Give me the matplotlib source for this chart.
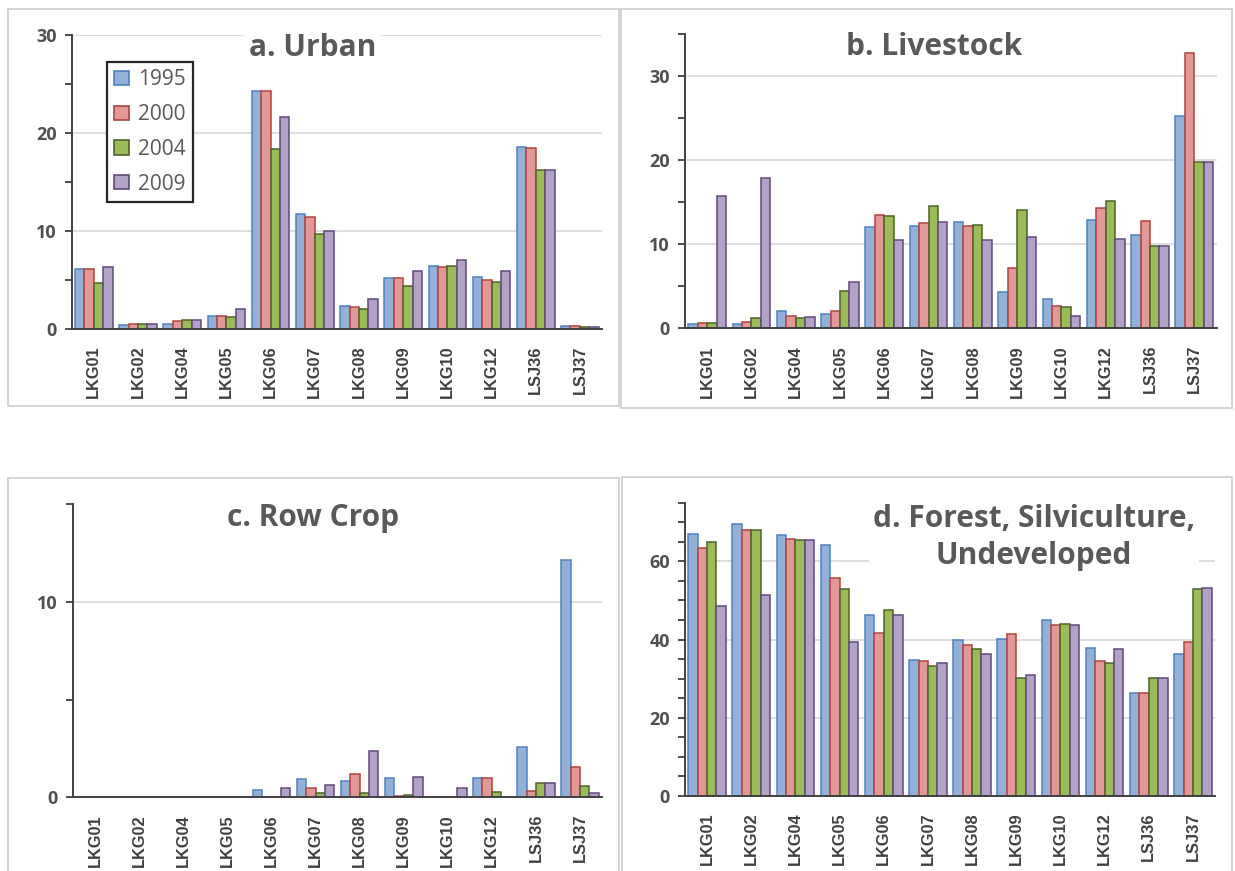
import matplotlib
matplotlib.use("Agg")
import matplotlib.pyplot as plt
from matplotlib.patches import Rectangle, Patch
from matplotlib.ticker import MultipleLocator

# Sub-watershed sites
sites = ["LKG01", "LKG02", "LKG04", "LKG05", "LKG06", "LKG07",
         "LKG08", "LKG09", "LKG10", "LKG12", "LSJ36", "LSJ37"]
years = ["1995", "2000", "2004", "2009"]

# a. Urban (% of area)
urban_1995 = [6.1, 0.37, 0.48, 1.3, 24.3, 11.7, 2.3, 5.2, 6.4, 5.3, 18.6, 0.27]
urban_2000 = [6.1, 0.48, 0.75, 1.3, 24.3, 11.4, 2.2, 5.2, 6.3, 5.0, 18.5, 0.24]
urban_2004 = [4.7, 0.48, 0.89, 1.2, 18.4, 9.7, 2.0, 4.4, 6.4, 4.8, 16.2, 0.14]
urban_2009 = [6.3, 0.48, 0.89, 2.0, 21.6, 10.0, 3.0, 5.9, 7.05, 5.9, 16.2, 0.14]

# b. Livestock
livestock_1995 = [0.55, 0.55, 2.1, 1.7, 12.0, 12.1, 12.6, 4.3, 3.5, 12.9, 11.1, 25.2]
livestock_2000 = [0.63, 0.8, 1.5, 2.1, 13.4, 12.5, 12.2, 7.2, 2.6, 14.3, 12.8, 32.7]
livestock_2004 = [0.63, 1.27, 1.2, 4.4, 13.3, 14.5, 12.3, 14.1, 2.5, 15.1, 9.8, 19.7]
livestock_2009 = [15.75, 17.9, 1.3, 5.5, 10.5, 12.6, 10.5, 10.8, 1.5, 10.6, 9.8, 19.7]

# c. Row crop
rowcrop_1995 = [0, 0, 0, 0, 0.39, 0.96, 0.84, 0.99, 0, 0.99, 2.56, 12.15]
rowcrop_2000 = [0, 0, 0, 0, 0, 0.46, 1.2, 0.05, 0, 0.99, 0.34, 1.57]
rowcrop_2004 = [0, 0, 0, 0, 0, 0.22, 0.22, 0.12, 0, 0.27, 0.73, 0.58]
rowcrop_2009 = [0, 0, 0, 0, 0.46, 0.65, 2.36, 1.06, 0.46, 0, 0.73, 0.24]

# d. Forest, silviculture, undeveloped
forest_1995 = [66.9, 69.5, 66.8, 64.2, 46.2, 34.9, 39.8, 40.1, 45.0, 37.8, 26.4, 36.4]
forest_2000 = [63.5, 67.9, 65.8, 55.8, 41.8, 34.6, 38.7, 41.4, 43.7, 34.4, 26.4, 39.4]
forest_2004 = [64.9, 68.1, 65.5, 53.0, 47.6, 33.2, 37.5, 30.2, 44.0, 33.9, 30.3, 53.0]
forest_2009 = [48.6, 51.4, 65.4, 39.5, 46.3, 33.9, 36.4, 31.0, 43.7, 37.5, 30.3, 53.1]

face_colors = ["#93b1d8", "#e29896", "#9bbb59", "#b2a2c8"]
edge_colors = ["#4f81bd", "#b3423f", "#4f6228", "#5f4a7b"]

W, H = 1235, 871
fig = plt.figure(figsize=(W / 100, H / 100), dpi=100)
fig.patch.set_facecolor("white")


def fx(px):
    return px / W


def fy(py):
    return 1 - py / H


def add_axes(x0, x1, ytop, ybot):
    return fig.add_axes([fx(x0), fy(ybot), fx(x1 - x0), (ybot - ytop) / H])


# light grey panel frames
for (x0, y0, x1, y1) in [(8, 9, 619, 406), (621, 9, 1232, 408),
                         (8, 478, 619, 880), (622, 477, 1232, 880)]:
    fig.patches.append(Rectangle((fx(x0), fy(y1)), fx(x1 - x0), (y1 - y0) / H,
                                 transform=fig.transFigure, fill=False,
                                 edgecolor="#d4d4d4", linewidth=1.4, zorder=0))

axis_col = "#404040"
label_col = "#505050"


def draw_panel(ax, series, ymax, major, minor):
    n = len(series)
    w = 0.213
    x = list(range(len(sites)))
    for i, vals in enumerate(series):
        off = (i - (n - 1) / 2) * w
        # zero-height bars get no outline
        lws = [1.1 if v > 0 else 0 for v in vals]
        ax.bar([xi + off for xi in x], vals, width=w,
               facecolor=face_colors[i], edgecolor=edge_colors[i],
               linewidth=lws, zorder=3)
    ax.set_xlim(-0.5, len(sites) - 0.5)
    ax.set_ylim(0, ymax)
    ax.yaxis.set_major_locator(MultipleLocator(major))
    ax.yaxis.set_minor_locator(MultipleLocator(minor))
    ax.grid(axis="y", which="major", color="#d9d9d9", linewidth=1.2, zorder=0)
    ax.set_axisbelow(True)
    for s in ("top", "right"):
        ax.spines[s].set_visible(False)
    for s in ("left", "bottom"):
        ax.spines[s].set_color(axis_col)
        ax.spines[s].set_linewidth(1.4)
        ax.spines[s].set_zorder(4)
    ax.set_xticks(x)
    ax.set_xticklabels(sites, rotation=90, fontsize=11.8, fontweight="bold",
                       color=axis_col, family="Liberation Sans")
    ax.tick_params(axis="x", length=0, pad=12)
    ax.tick_params(axis="y", which="both", direction="out", length=5,
                   width=1.3, color=axis_col, pad=6)
    ax.tick_params(axis="y", which="major", labelsize=13, labelcolor=label_col)
    for t in ax.get_yticklabels():
        t.set_fontweight("bold")
        t.set_family("Open Sans")


ax_a = add_axes(71.7, 602, 35, 328.7)
draw_panel(ax_a, [urban_1995, urban_2000, urban_2004, urban_2009], 30, 10, 5)

ax_b = add_axes(685, 1216.5, 33.6, 328.3)
draw_panel(ax_b, [livestock_1995, livestock_2000, livestock_2004, livestock_2009], 35, 10, 5)

ax_c = add_axes(73.3, 602, 504.3, 797.3)
draw_panel(ax_c, [rowcrop_1995, rowcrop_2000, rowcrop_2004, rowcrop_2009], 15, 10, 5)

ax_d = add_axes(685, 1215, 502.7, 796)
draw_panel(ax_d, [forest_1995, forest_2000, forest_2004, forest_2009], 75, 20, 5)

# panel titles on white boxes (they interrupt the gridlines beneath)
title_kw = dict(fontsize=21.5, fontweight="bold", color="#595959",
                family="Open Sans", ha="center", va="baseline",
                bbox=dict(facecolor="white", edgecolor="none", pad=3), zorder=5)
fig.text(fx(313), fy(56), "a. Urban", **title_kw)
fig.text(fx(934), fy(55), "b. Livestock", **title_kw)
fig.text(fx(313), fy(526), "c. Row Crop", **title_kw)
fig.text(fx(1034), fy(564), "d. Forest, Silviculture,\nUndeveloped",
         linespacing=1.3, **title_kw)

# legend inside panel a
handles = [Patch(facecolor=face_colors[i], edgecolor=edge_colors[i], linewidth=1.2)
           for i in range(len(years))]
leg = ax_a.legend(handles, years, loc="upper left",
                  bbox_to_anchor=(fx(107), fy(62)), bbox_transform=fig.transFigure,
                  frameon=True, fancybox=False, framealpha=1, edgecolor="#262626",
                  prop={"family": "Open Sans", "size": 15},
                  handlelength=0.72, handleheight=0.68, handletextpad=0.4,
                  labelspacing=0.66, borderpad=0.35, borderaxespad=0)
leg.get_frame().set_linewidth(1.6)
for t in leg.get_texts():
    t.set_color("#595959")

fig.savefig("out.png", dpi=100, facecolor="white")
